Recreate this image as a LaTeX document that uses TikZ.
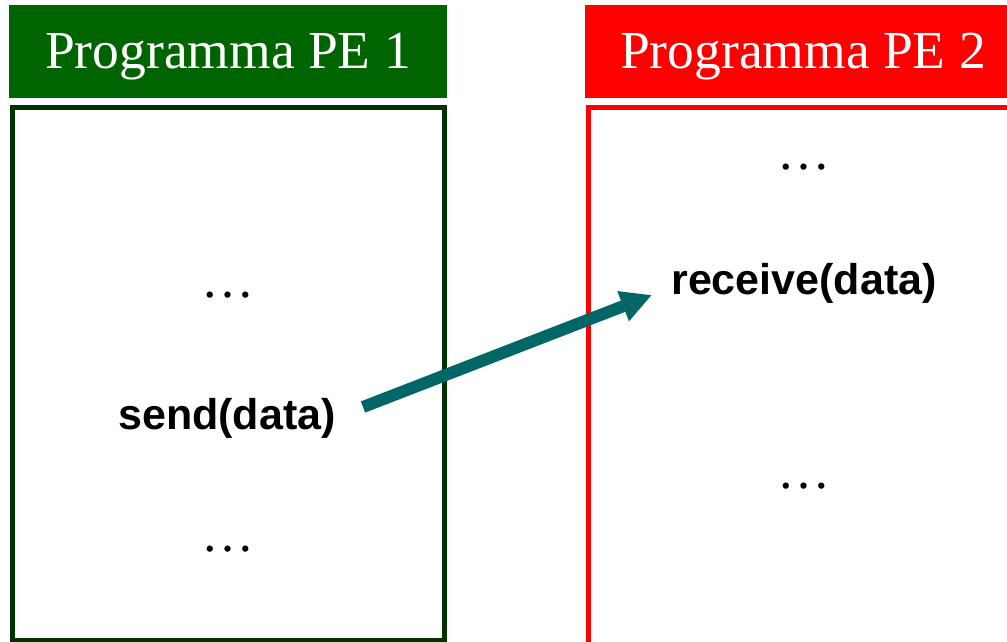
\documentclass[tikz,border=0pt]{standalone}
\usepackage{fontspec}
\setmainfont{Liberation Serif}
\newfontfamily\labelsans{Liberation Sans}
\usetikzlibrary{arrows.meta}
\definecolor{hdrgreen}{RGB}{0,100,0}
\definecolor{boxgreen}{RGB}{0,51,0}
\definecolor{hdrred}{RGB}{255,0,0}
\definecolor{arrowteal}{RGB}{0,102,102}
\tikzset{
  header/.style={rectangle, inner sep=0pt, minimum height=93pt, text=white,
    font=\fontsize{53.5}{57}\selectfont, text height=37pt, text depth=2pt},
  progbox/.style={rectangle, draw, line width=5pt, inner sep=0pt},
  code/.style={anchor=base, inner sep=0pt, font=\labelsans\bfseries\fontsize{43}{48}\selectfont},
  dots/.style={anchor=base, inner sep=0pt, font=\fontsize{53}{56}\selectfont},
  msg/.style={draw=arrowteal, line width=12pt, -{Triangle[length=31pt,width=30pt]}}
}
\begin{document}
\begin{tikzpicture}[x=1pt,y=-1pt]
\useasboundingbox (0,0) rectangle (1007,642);
% headers
\node[header, fill=hdrgreen, minimum width=438pt] (h1) at (228,51.5) {Programma PE 1};
\node[header, fill=hdrred, minimum width=436pt] (h2) at (803,51.5) {Programma PE 2};
% program boxes
\node[progbox, draw=boxgreen, minimum width=432pt, minimum height=533pt] (pe1) at (228,373.5) {};
\node[progbox, draw=hdrred, minimum width=432pt, minimum height=539pt] (pe2) at (804,376.5) {};
% contents PE 1
\node[dots] (d1) at (228,297) {…};
\node[code] (send) at (227,429) {send(data)};
\node[dots] (d2) at (228,551) {…};
% contents PE 2
\node[dots] (d3) at (804,169) {…};
\node[code] (recv) at (804,294) {receive(data)};
\node[dots] (d4) at (804,488) {…};
% message arrow
\coordinate (from) at (363,407);
\coordinate (to) at (652,295);
\draw[msg] (from) -- (to);
\end{tikzpicture}
\end{document}
